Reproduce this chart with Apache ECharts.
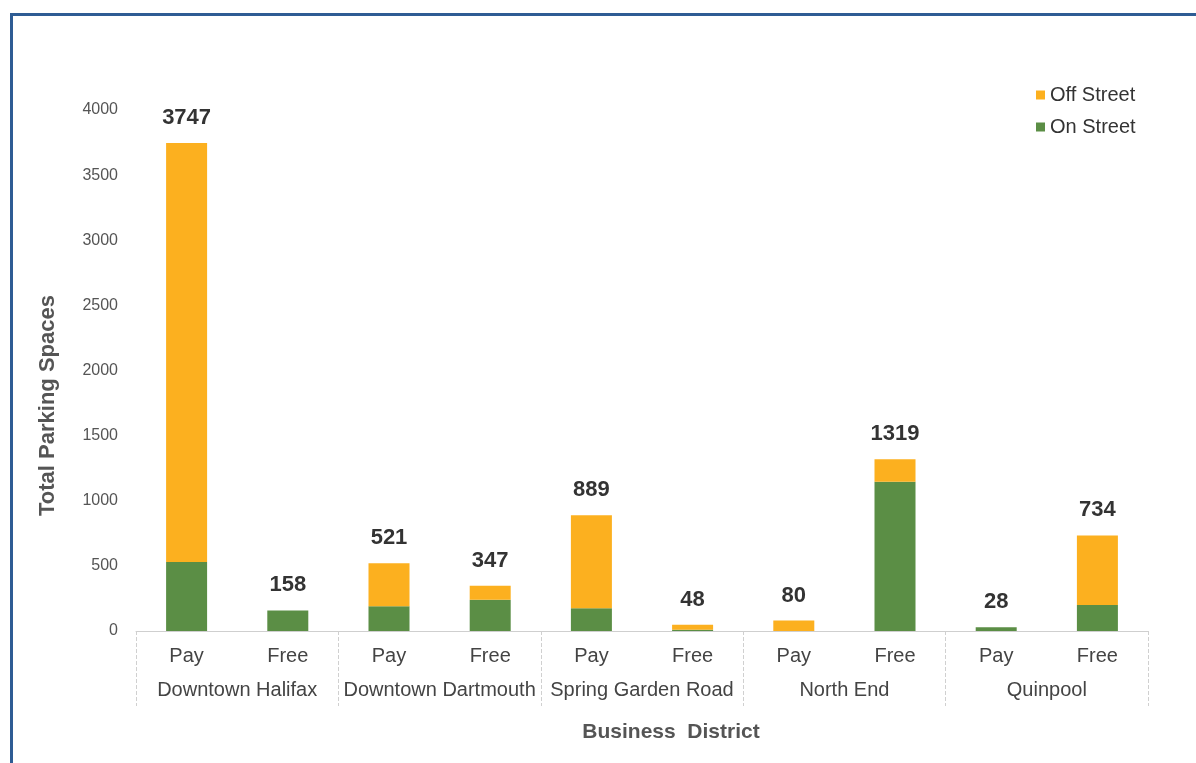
<!DOCTYPE html>
<html>
<head>
<meta charset="utf-8">
<script src="https://cdn.jsdelivr.net/npm/echarts@6/dist/echarts.min.js"></script>
<style>
  html, body { margin: 0; padding: 0; background: #fff; }
  #frame { position: absolute; left: 10px; top: 13px; width: 1200px; height: 800px;
           border-left: 3px solid #2E5C94; border-top: 3px solid #2E5C94; }
  #chart { position: absolute; left: 0; top: 0; width: 1196px; height: 763px; }
</style>
</head>
<body>
<div id="frame"></div>
<div id="chart"></div>
<script>
const paymentTypes = ['Pay','Free','Pay','Free','Pay','Free','Pay','Free','Pay','Free'];
const districts = ['Downtown Halifax','Downtown Dartmouth','Spring Garden Road','North End','Quinpool'];
const onStreet  = [530, 158, 190, 240, 175, 10, 0, 1145, 28, 200];
const offStreet = [3217, 0, 331, 107, 714, 38, 80, 174, 0, 534];
const yTicks = [0, 500, 1000, 1500, 2000, 2500, 3000, 3500, 4000];

const totals = onStreet.map((v, i) => v + offStreet[i]);
const chart = echarts.init(document.getElementById('chart'));
const labelFont = 'Liberation Sans Narrow, Liberation Sans, Arial, sans-serif';
const baseFont = 'Liberation Sans, Arial, sans-serif';

chart.setOption({
  animation: false,
  backgroundColor: 'transparent',
  grid: { left: 136, right: 48, top: 110, bottom: 132, containLabel: false },
  legend: {
    data: ['Off Street', 'On Street'],
    orient: 'vertical',
    left: 1031, top: 80,
    itemWidth: 9, itemHeight: 9, itemGap: 12,
    icon: 'rect',
    textStyle: { fontSize: 20, color: '#333', fontFamily: baseFont }
  },
  xAxis: [
    {
      type: 'category',
      data: paymentTypes,
      position: 'bottom',
      axisLine: { show: true, lineStyle: { color: '#cfcfcf', width: 1 } },
      axisTick: { show: false },
      axisLabel: { interval: 0, margin: 15, fontSize: 20, color: '#444', fontFamily: labelFont }
    },
    {
      type: 'category',
      data: districts,
      position: 'bottom',
      axisLine: { show: false },
      axisTick: { show: true, interval: 0, length: 75, lineStyle: { color: '#d0d0d0', type: 'dashed', width: 1 } },
      axisLabel: { interval: 0, margin: 49, fontSize: 20, color: '#444', fontFamily: labelFont },
      name: 'Business  District',
      nameLocation: 'middle',
      nameGap: 91,
      nameTextStyle: { fontSize: 21, fontWeight: 'bold', color: '#555', fontFamily: baseFont, padding: [0, 0, 0, 58] }
    }
  ],
  yAxis: {
    type: 'value',
    min: yTicks[0], max: yTicks[yTicks.length - 1], interval: 500,
    splitLine: { show: false },
    axisLine: { show: false },
    axisTick: { show: false },
    axisLabel: { fontSize: 16, color: '#555', margin: 18, fontFamily: baseFont, formatter: v => String(v) },
    name: 'Total Parking Spaces',
    nameLocation: 'middle',
    nameGap: 77,
    nameRotate: 90,
    nameTextStyle: { fontSize: 22, fontWeight: 'bold', color: '#555', fontFamily: baseFont, padding: [0, 70, 0, 0] }
  },
  series: [
    {
      name: 'On Street',
      type: 'bar',
      stack: 'total',
      xAxisIndex: 0,
      barWidth: 41,
      data: onStreet,
      itemStyle: { color: '#5B8E45' }
    },
    {
      name: 'Off Street',
      type: 'bar',
      stack: 'total',
      xAxisIndex: 0,
      barWidth: 41,
      data: offStreet,
      itemStyle: { color: '#FCB01F' },
      label: {
        show: true,
        position: 'top',
        distance: 14,
        fontSize: 22,
        fontWeight: 'bold',
        color: '#333',
        fontFamily: baseFont,
        formatter: p => String(totals[p.dataIndex])
      }
    }
  ]
});
</script>
</body>
</html>
